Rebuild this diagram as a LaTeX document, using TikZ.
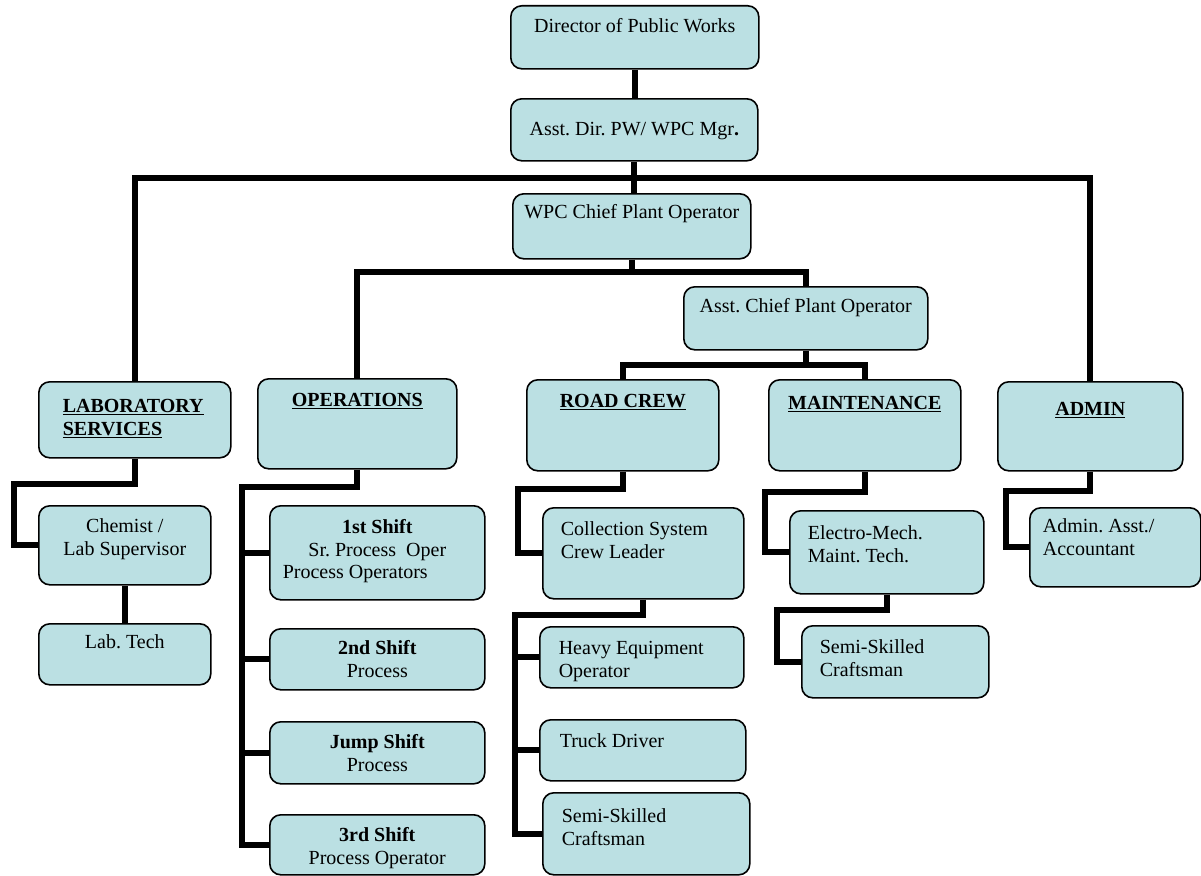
\documentclass[tikz,border=0pt]{standalone}
\usepackage{fontspec}
\setmainfont{Liberation Serif}
\usepackage{tikz}
\frenchspacing

\definecolor{boxfill}{RGB}{187,224,227}
\newcommand{\cell}[5]{\parbox[c][#2pt][t]{#1pt}{\vspace*{#3pt}#4\strut #5}}
\newcommand{\head}[1]{\underline{\textbf{#1}}}

\begin{document}
\begin{tikzpicture}[x=1pt,y=-1pt,font=\fontsize{20}{22.5}\selectfont]
                \tikzstyle{unit}=[draw=black,fill=boxfill,line width=1.6pt,rounded corners=11pt,inner sep=0pt,anchor=north west]
                \tikzstyle{link}=[line width=6pt]
                \useasboundingbox (0,0) rectangle (1201,875);

                    \node[unit] (dir) at (510,5) {\cell{248}{63}{11}{\centering}{Director of Public Works}};
                    \node[unit] (adir) at (510,98) {\cell{247}{62}{21}{\centering}{Asst. Dir. PW/ WPC Mgr\textbf{.}}};
                    \node[unit] (wpc) at (512,193) {\cell{238}{65}{9}{\centering}{WPC Chief Plant Operator}};
                    \node[unit] (achief) at (683,286) {\cell{244}{63}{10}{\centering}{Asst. Chief Plant Operator}};

                    \node[unit] (lab) at (38,381) {\cell{192}{76}{15}{\raggedright\leftskip=24pt\relax}{\head{LABORATORY}\\\head{SERVICES}}};
                    \node[unit] (ops) at (257,378) {\cell{199}{90}{12}{\centering}{\head{OPERATIONS}}};
                    \node[unit] (road) at (526,379) {\cell{192}{91}{12}{\centering}{\head{ROAD CREW}}};
                    \node[unit] (maint) at (768,379) {\cell{192}{91}{14}{\centering}{\head{MAINTENANCE}}};
                    \node[unit] (admin) at (997,381) {\cell{185}{89}{18}{\centering}{\head{ADMIN}}};

                    \node[unit] (chem) at (38,505) {\cell{172}{79}{11}{\centering}{Chemist /\\Lab Supervisor}};
                    \node[unit] (labtech) at (38,623) {\cell{172}{61}{9}{\centering}{Lab. Tech}};

                    \node[unit] (s1) at (269,505) {\cell{215}{94}{12}{\centering}{\textbf{1st Shift}\\Sr. Process\ \ Oper\\Process Operators\hspace*{44pt}}};
                    \node[unit] (s2) at (269,628) {\cell{215}{61}{10}{\centering}{\textbf{2nd Shift}\\Process}};
                    \node[unit] (sj) at (269,721) {\cell{215}{62}{11}{\centering}{\textbf{Jump Shift}\\Process}};
                    \node[unit] (s3) at (269,814) {\cell{215}{60}{11}{\centering}{\textbf{3rd Shift}\\Process Operator}};

                    \node[unit] (coll) at (542,507) {\cell{201}{91}{12}{\raggedright\leftskip=18pt\relax}{Collection System\\Crew Leader}};
                    \node[unit] (heavy) at (539,626) {\cell{204}{61}{12}{\raggedright\leftskip=19pt\relax}{Heavy Equipment\\Operator}};
                    \node[unit] (truck) at (539,719) {\cell{206}{61}{12}{\raggedright\leftskip=20pt\relax}{Truck Driver}};
                    \node[unit] (semi1) at (542,792) {\cell{207}{82}{14}{\raggedright\leftskip=19pt\relax}{Semi-Skilled\\Craftsman}};

                    \node[unit] (elec) at (789,510) {\cell{194}{83}{13}{\raggedright\leftskip=18pt\relax}{Electro-Mech.\\Maint. Tech.}};
                    \node[unit] (semi2) at (801,625) {\cell{187}{72}{12}{\raggedright\leftskip=18pt\relax}{Semi-Skilled\\Craftsman}};
                    \node[unit] (aasst) at (1029,507) {\cell{171}{79}{9}{\raggedright\leftskip=13pt\relax}{Admin. Asst./\\Accountant}};

                    \coordinate (bus) at (633.5,178);
                    \coordinate (split) at (wpc.south |- 0,272);
                    \coordinate (fork) at (achief.south |- 0,365);

                    \draw[link] (dir.south) -- (dir.south |- adir.north);
                    \draw[link] (adir.south) -- (adir.south |- wpc.north);
                    \draw[link] (lab.north) |- (bus) -| (admin.north);
                    \draw[link] (wpc.south) -- (split);
                    \draw[link] (ops.north) |- (split) -| (achief.north);
                    \draw[link] (achief.south) -- (fork);
                    \draw[link] (road.north) |- (fork) -| (maint.north);

                    \draw[link] (lab.south) -- ++(0,25) -| ([xshift=-24pt]chem.west) -- (chem.west);
                    \draw[link] (chem.south) -- (labtech.north);

                    \draw[link] (ops.south) -- ++(0,17) -| ([xshift=-27pt]s3.west) -- (s3.west);
                    \foreach \s in {s1,s2,sj}
                        \draw[link] (\s.west) -- ++(-27,0);

                    \draw[link] (road.south) -- ++(0,17) -| ([xshift=-24pt]coll.west) -- (coll.west);
                    \draw[link] (coll.south) -- ++(0,15) -| ([xshift=-27pt]semi1.west) -- (semi1.west);
                    \foreach \s in {heavy,truck}
                        \draw[link] (\s.west) -- ++(-24,0);

                    \draw[link] (maint.south) -- ++(0,20) -| ([xshift=-24pt]elec.west) -- (elec.west);
                    \draw[link] (elec.south) -- ++(0,15) -| ([xshift=-24pt]semi2.west) -- (semi2.west);
                    \draw[link] (admin.south) -- ++(0,19) -| ([xshift=-23pt]aasst.west) -- (aasst.west);
            \end{tikzpicture}
\end{document}
